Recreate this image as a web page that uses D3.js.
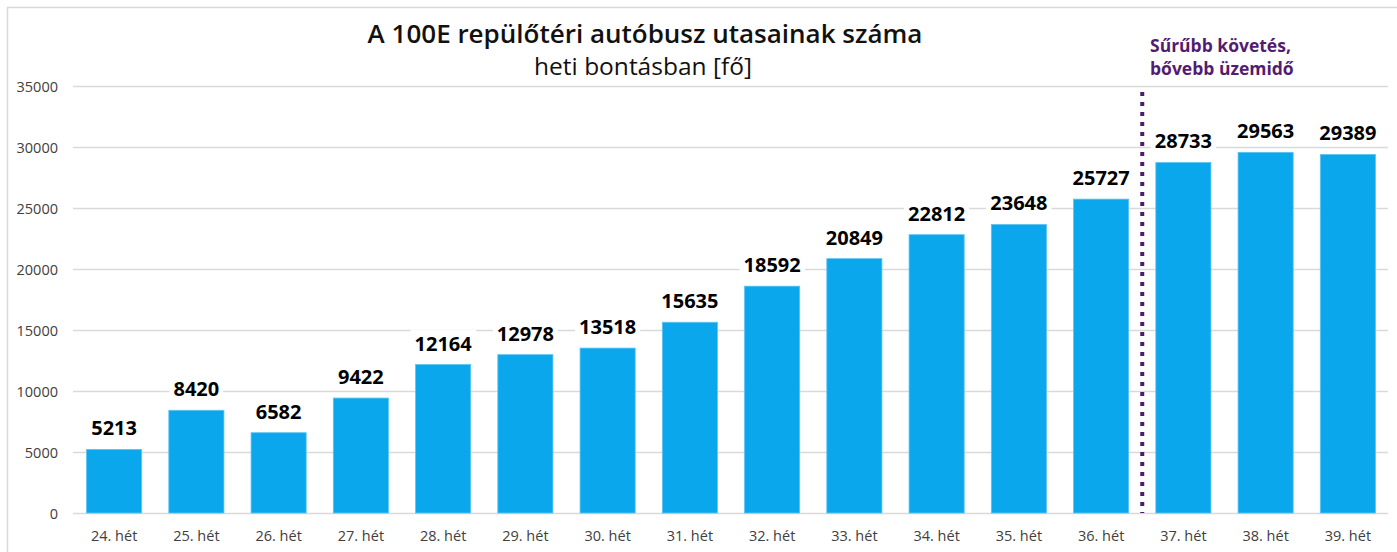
<!DOCTYPE html>
<html><head><meta charset="utf-8">
<script src="https://cdn.jsdelivr.net/npm/d3@7"></script>
<style>
html,body{margin:0;padding:0;background:#fff;}
svg{display:block;font-family:"Open Sans","Noto Sans",sans-serif;}
</style></head>
<body><svg id="c" width="1397" height="552"></svg>
<script>
const categories = ["24. hét","25. hét","26. hét","27. hét","28. hét","29. hét","30. hét","31. hét","32. hét","33. hét","34. hét","35. hét","36. hét","37. hét","38. hét","39. hét"];
const values = [5213,8420,6582,9422,12164,12978,13518,15635,18592,20849,22812,23648,25727,28733,29563,29389];
const yTicks = [0,5000,10000,15000,20000,25000,30000,35000];
const title = "A 100E repülőtéri autóbusz utasainak száma";
const subtitle = "heti bontásban [fő]";
const noteLines = ["Sűrűbb követés,","bővebb üzemidő"];
const markerAfter = "36. hét";

const svg = d3.select("#c");
// outer frame
svg.append("path").attr("d","M7.5,552 V7.5 H1397").attr("fill","none").attr("stroke","#d9d9d9").attr("stroke-width",1.5);

const x = d3.scaleBand().domain(categories).range([73,1389]).paddingInner(0.33).paddingOuter(0.165);
const y = d3.scaleLinear().domain([0,35000]).range([513,86]);

// grid
svg.append("g").selectAll("line").data(yTicks).join("line")
  .attr("x1",73).attr("x2",1388)
  .attr("y1",d=>Math.round(y(d))+0.5).attr("y2",d=>Math.round(y(d))+0.5)
  .attr("stroke","#d9d9d9").attr("stroke-width",1.3);

// y axis labels
const yAxis = d3.axisLeft(y).tickValues(yTicks).tickSize(0).tickPadding(0).tickFormat(d3.format("d"));
const ga = svg.append("g").attr("transform","translate(58,0)").call(yAxis);
ga.select(".domain").remove();
ga.selectAll("text").attr("font-size",14.5).attr("fill","#404040").attr("font-family","'Open Sans',sans-serif").attr("dy","0.35em");

// x axis labels
const xAxis = d3.axisBottom(x).tickSize(0).tickPadding(0);
const gx = svg.append("g").attr("transform","translate(0,541)").call(xAxis);
gx.select(".domain").remove();
gx.selectAll("text").attr("font-size",14.5).attr("fill","#404040").attr("font-family","'Open Sans',sans-serif").attr("dy","0");

// bars
svg.append("g").selectAll("rect").data(values).join("rect")
  .attr("x",(d,i)=>x(categories[i])).attr("width",x.bandwidth())
  .attr("y",d=>y(d)).attr("height",d=>y(0)-y(d))
  .attr("fill","#0aa7ed").attr("stroke","#5cc4f2").attr("stroke-width",0.8);

// value labels with white background
const lg = svg.append("g");
values.forEach((d,i)=>{
  const cx = x(categories[i]) + x.bandwidth()/2;
  const by = y(d) - 14;
  const t = lg.append("text").attr("x",cx).attr("y",by).attr("text-anchor","middle")
    .attr("font-size",20).attr("font-weight",700).attr("fill","#000").text(d);
  const bb = t.node().getBBox();
  lg.insert("rect","text").attr("x",bb.x-4).attr("y",bb.y).attr("width",bb.width+8).attr("height",bb.height).attr("fill","#fff");
});
lg.selectAll("text").raise();

// dotted marker between groups
const mx = x(markerAfter) + x.bandwidth() + (x.step()-x.bandwidth())/2;
svg.append("line").attr("x1",mx).attr("x2",mx).attr("y1",92).attr("y2",y(0))
  .attr("stroke","#4f1a6b").attr("stroke-width",4).attr("stroke-dasharray","4,6");

// note
const nt = svg.append("text").attr("x",1150).attr("y",52).attr("font-size",17.5).attr("font-weight",700).attr("fill","#531b73");
noteLines.forEach((l,i)=>nt.append("tspan").attr("x",1150).attr("dy",i?23:0).text(l));

// titles
svg.append("text").attr("x",645).attr("y",43).attr("text-anchor","middle").attr("font-size",26).attr("font-weight",600).attr("fill","#111").text(title);
svg.append("text").attr("x",643).attr("y",75).attr("text-anchor","middle").attr("font-size",24.5).attr("font-weight",400).attr("fill","#111").text(subtitle);
</script></body></html>
